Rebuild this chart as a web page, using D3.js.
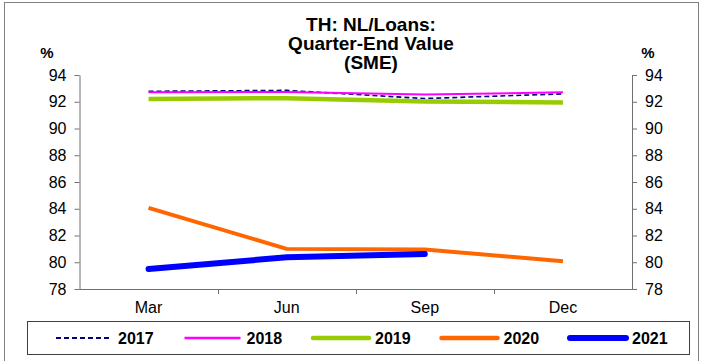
<!DOCTYPE html>
<html>
<head>
<meta charset="utf-8">
<script src="https://cdn.jsdelivr.net/npm/d3@7/dist/d3.min.js"></script>
<style>
  html, body { margin: 0; padding: 0; background: #fff; }
  svg { display: block; font-family: "Liberation Sans", Arial, sans-serif; }
</style>
</head>
<body>
<svg id="chart" width="701" height="361"></svg>
<script>
// Quarter-end NPL/loans ratio for SMEs, by year
const quarters = ["Mar", "Jun", "Sep", "Dec"];
const years = ["2017", "2018", "2019", "2020", "2021"];
const v2017 = [92.78, 92.85, 92.24, 92.59];
const v2018 = [92.71, 92.73, 92.54, 92.71];
const v2019 = [92.20, 92.27, 92.02, 91.95];
const v2020 = [84.07, 81.00, 80.96, 80.07];
const v2021 = [79.50, 80.37, 80.62];
const yTicks = [78, 80, 82, 84, 86, 88, 90, 92, 94];
const titleLines = ["TH: NL/Loans:", "Quarter-End Value", "(SME)"];

const seriesValues = [v2017, v2018, v2019, v2020, v2021];
const styles = [
  { color: "#000080", width: 1.6, dash: "5,3", legendWidth: 2 },
  { color: "#ff00ff", width: 2, dash: null, legendWidth: 2.5 },
  { color: "#99cc00", width: 4.5, dash: null, legendWidth: 4.5 },
  { color: "#ff6600", width: 4, dash: null, legendWidth: 4.5 },
  { color: "#0000ff", width: 6, dash: null, legendWidth: 6 }
];

const svg = d3.select("#chart");
const plotLeft = 79.5, plotRight = 632, plotTop = 75, plotBottom = 289;
const axisColor = "#707070";

// outer frame
svg.append("rect")
  .attr("x", 4.5).attr("y", 2.5).attr("width", 694).attr("height", 370)
  .attr("fill", "none").attr("stroke", "#808080").attr("stroke-width", 1);

const x = d3.scaleBand().domain(quarters).range([plotLeft, plotRight]).padding(0);
const y = d3.scaleLinear().domain([78, 94]).range([plotBottom, plotTop]);

// title
const title = svg.append("text")
  .attr("text-anchor", "middle")
  .attr("font-weight", "bold").attr("font-size", 19).attr("fill", "#000");
titleLines.forEach((t, i) => {
  title.append("tspan").attr("x", 371).attr("y", 31 + i * 19).text(t);
});

// unit labels
svg.append("text").attr("x", 47).attr("y", 58).attr("text-anchor", "middle")
  .attr("font-weight", "bold").attr("font-size", 15).text("%");
svg.append("text").attr("x", 648).attr("y", 58).attr("text-anchor", "middle")
  .attr("font-weight", "bold").attr("font-size", 15).text("%");

// y axes, both sides
const yLeft = svg.append("g").attr("transform", `translate(${plotLeft},0)`)
  .call(d3.axisLeft(y).tickValues(yTicks).tickSize(5).tickPadding(8).tickSizeOuter(0));
const yRight = svg.append("g").attr("transform", `translate(${plotRight},0)`)
  .call(d3.axisRight(y).tickValues(yTicks).tickSize(5).tickPadding(8).tickSizeOuter(0));

// x axis: ticks on the category boundaries, labels at centres
const xAxis = svg.append("g").attr("transform", `translate(0,${plotBottom})`);
xAxis.append("line").attr("x1", plotLeft).attr("x2", plotRight).attr("y1", 0.5).attr("y2", 0.5)
  .attr("stroke", axisColor);
xAxis.selectAll("line.tick").data(quarters.slice(1)).join("line")
  .attr("class", "tick")
  .attr("x1", d => Math.round(x(d)) + 0.5).attr("x2", d => Math.round(x(d)) + 0.5)
  .attr("y1", 0).attr("y2", 5).attr("stroke", axisColor);
xAxis.selectAll("text").data(quarters).join("text")
  .attr("x", d => x(d) + x.bandwidth() / 2).attr("y", 24)
  .attr("text-anchor", "middle").attr("font-size", 16).attr("fill", "#000")
  .text(d => d);

[yLeft, yRight].forEach(g => {
  g.select(".domain").attr("stroke", axisColor);
  g.selectAll(".tick line").attr("stroke", axisColor);
  g.selectAll(".tick text").attr("font-size", 16).attr("fill", "#000")
    .attr("font-family", "Liberation Sans, Arial, sans-serif");
});

// series lines
const line = d3.line()
  .x((d, i) => x(quarters[i]) + x.bandwidth() / 2)
  .y(d => y(d));

seriesValues.forEach((vals, i) => {
  const s = styles[i];
  svg.append("path").datum(vals)
    .attr("d", line)
    .attr("fill", "none")
    .attr("stroke", s.color)
    .attr("stroke-width", s.width)
    .attr("stroke-dasharray", s.dash)
    .attr("stroke-linejoin", "round")
    .attr("stroke-linecap", i === 4 ? "round" : "butt");
});

// legend
const legend = svg.append("g");
legend.append("rect").attr("x", 27.5).attr("y", 321.5).attr("width", 662).attr("height", 33)
  .attr("fill", "#fff").attr("stroke", "#404040").attr("stroke-width", 1);
const lg = legend.selectAll("g.item").data(years).join("g")
  .attr("class", "item")
  .attr("transform", (d, i) => `translate(${56 + i * 128.5},338)`);
lg.append("line").attr("x1", 0).attr("x2", 56).attr("y1", 0).attr("y2", 0)
  .attr("stroke", (d, i) => styles[i].color)
  .attr("stroke-width", (d, i) => styles[i].legendWidth)
  .attr("stroke-dasharray", (d, i) => styles[i].dash)
  .attr("stroke-linecap", (d, i) => i >= 2 ? "round" : "butt");
lg.append("text").attr("x", 62).attr("y", 6)
  .attr("font-weight", "bold").attr("font-size", 16).attr("fill", "#000")
  .text(d => d);
</script>
</body>
</html>
